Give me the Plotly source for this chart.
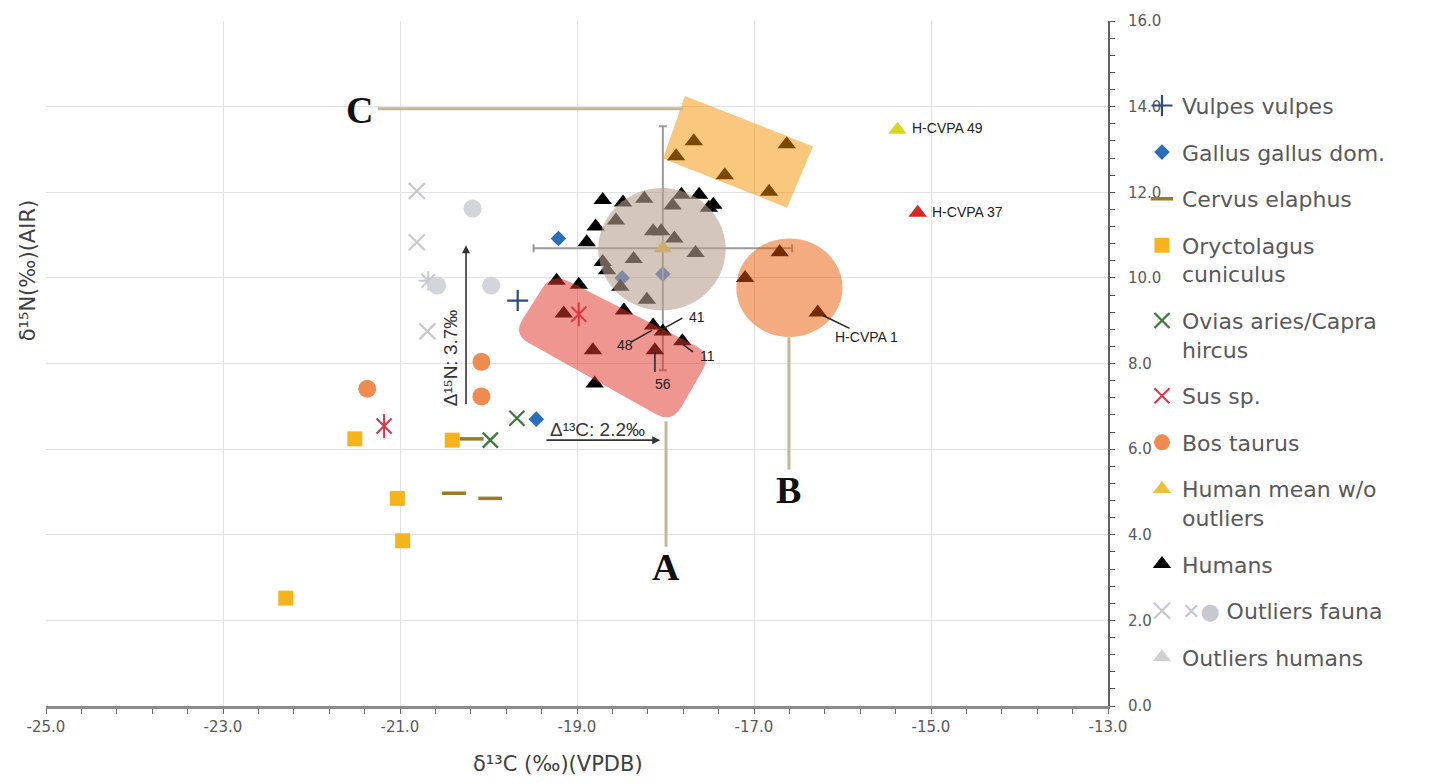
import plotly.graph_objects as go

# ---------------- data ----------------
vulpes_x = [-19.67]
vulpes_y = [9.47]
gallus_x = [-19.21, -18.49, -18.03, -19.46]
gallus_y = [10.92, 10.00, 10.09, 6.70]
cervus_x = [-20.19, -20.39, -19.98]
cervus_y = [6.24, 4.97, 4.85]
oryct_x = [-22.29, -21.51, -20.41, -21.03, -20.97]
oryct_y = [2.52, 6.24, 6.21, 4.85, 3.86]
ovis_x = [-19.98, -19.68]
ovis_y = [6.21, 6.72]
sus_x = [-21.18, -18.98]
sus_y = [6.54, 9.15]
bos_x = [-21.37, -20.08, -20.08]
bos_y = [7.41, 8.04, 7.23]
mean_x = [-18.03]
mean_y = [10.69]
mean_sd_x = [1.46]
mean_sd_y = [2.85]
humans_x = [-18.71, -18.48, -18.24, -17.82, -17.92, -17.62, -17.46, -17.51,
            -18.79, -18.56, -18.14, -18.05, -17.90, -18.89, -17.66, -18.36,
            -18.71, -18.66, -18.51, -18.21,
            -19.23, -18.98, -19.15, -18.47, -18.14, -18.03, -17.81, -18.12,
            -18.82, -18.80,
            -16.71, -17.10, -16.28,
            -17.68, -17.88, -17.33, -16.63, -16.83]
humans_y = [11.82, 11.76, 11.85, 11.94, 11.69, 11.94, 11.71, 11.64,
            11.20, 11.34, 11.09, 11.09, 10.92, 10.83, 10.58, 10.44,
            10.37, 10.18, 9.79, 9.49,
            9.93, 9.84, 9.17, 9.24, 8.89, 8.75, 8.52, 8.31,
            8.31, 7.53,
            10.60, 10.00, 9.19,
            13.19, 12.84, 12.40, 13.12, 12.01]
out_fauna_x_x = [-20.81, -20.81, -20.69]
out_fauna_x_y = [12.03, 10.83, 8.75]
out_fauna_star_x = [-20.68]
out_fauna_star_y = [9.93]
out_fauna_circ_x = [-20.58, -20.18, -19.97]
out_fauna_circ_y = [9.82, 11.62, 9.82]
out_hum_names = ["H-CVPA 49", "H-CVPA 37"]
out_hum_x = [-15.38, -15.15]
out_hum_y = [13.46, 11.52]
out_hum_colors = ["#d9d61e", "#d42a24"]

x_tick_vals = [-25, -23, -21, -19, -17, -15, -13]
x_tick_text = ["-25.0", "-23.0", "-21.0", "-19.0", "-17.0", "-15.0", "-13.0"]
y_tick_vals = [0, 2, 4, 6, 8, 10, 12, 14, 16]
y_tick_text = ["0.0", "2.0", "4.0", "6.0", "8.0", "10.0", "12.0", "14.0", "16.0"]

# group outlines (data coordinates)
gray_circle = dict(cx=-18.04, cy=10.67, rx=0.72, ry=1.43)
orange_circle = dict(cx=-16.60, cy=9.77, rx=0.60, ry=1.15)
yellow_rect = [(-17.78, 14.25), (-16.333, 13.07), (-16.627, 11.64), (-18.028, 12.79)]
red_rect = [(-19.282, 10.115), (-17.475, 8.222), (-17.927, 6.605), (-19.723, 8.684)]

LEG_FONT = "DejaVu Sans"
TXT = "#595959"

VULPES = "#2f4b7c"
OVIS = "#3c7a3c"
SUS = "#e0344a"
CERVUS = "#9c7a22"
OUTF = "#c8c8d0"

fig = go.Figure()

fig.add_trace(go.Scatter(x=vulpes_x, y=vulpes_y, mode="markers", name="Vulpes vulpes",
                         marker=dict(symbol="cross-thin-open", size=15, color=VULPES,
                                     line=dict(color=VULPES, width=2.2))))
fig.add_trace(go.Scatter(x=gallus_x, y=gallus_y, mode="markers", name="Gallus gallus dom.",
                         marker=dict(symbol="diamond", size=12, color="#2a6ebb")))
fig.add_trace(go.Scatter(x=cervus_x, y=cervus_y, mode="markers", name="Cervus elaphus",
                         marker=dict(symbol="line-ew-open", size=17, color=CERVUS,
                                     line=dict(color=CERVUS, width=3.5))))
fig.add_trace(go.Scatter(x=oryct_x, y=oryct_y, mode="markers", name="Oryctolagus<br>cuniculus",
                         marker=dict(symbol="square", size=15, color="#f5b41c")))
fig.add_trace(go.Scatter(x=ovis_x, y=ovis_y, mode="markers", name="Ovias aries/Capra<br>hircus",
                         marker=dict(symbol="x-thin-open", size=15, color=OVIS,
                                     line=dict(color=OVIS, width=2.2))))
fig.add_trace(go.Scatter(x=sus_x, y=sus_y, mode="markers", name="Sus sp.", legendgroup="sus",
                         marker=dict(symbol="x-thin-open", size=15, color=SUS,
                                     line=dict(color=SUS, width=2))))
fig.add_trace(go.Scatter(x=sus_x, y=sus_y, mode="markers", showlegend=False, legendgroup="sus",
                         marker=dict(symbol="line-ns-open", size=17, color=SUS,
                                     line=dict(color=SUS, width=2))))
fig.add_trace(go.Scatter(x=bos_x, y=bos_y, mode="markers", name="Bos taurus",
                         marker=dict(symbol="circle", size=18, color="#ef8a50")))
fig.add_trace(go.Scatter(x=mean_x, y=mean_y, mode="markers", name="Human mean w/o<br>outliers",
                         marker=dict(symbol="triangle-up", size=16, color="#eec03a"),
                         error_x=dict(type="data", array=mean_sd_x, color="#9a9a9a",
                                      thickness=2, width=4),
                         error_y=dict(type="data", array=mean_sd_y, color="#9a9a9a",
                                      thickness=2, width=4)))
fig.add_trace(go.Scatter(x=humans_x, y=humans_y, mode="markers", name="Humans",
                         marker=dict(symbol="triangle-up", size=16, color="#000000")))
fig.add_trace(go.Scatter(x=out_fauna_x_x, y=out_fauna_x_y, mode="markers",
                         name="<span style='color:#c8c8d0'>✕●</span> Outliers fauna",
                         legendgroup="of",
                         marker=dict(symbol="x-thin-open", size=16, color=OUTF,
                                     line=dict(color=OUTF, width=2.2))))
fig.add_trace(go.Scatter(x=out_fauna_star_x, y=out_fauna_star_y, mode="markers",
                         showlegend=False, legendgroup="of",
                         marker=dict(symbol="asterisk-open", size=16, color=OUTF,
                                     line=dict(color=OUTF, width=2))))
fig.add_trace(go.Scatter(x=out_fauna_circ_x, y=out_fauna_circ_y, mode="markers",
                         showlegend=False, legendgroup="of",
                         marker=dict(symbol="circle", size=18, color="#d4d4dc")))
fig.add_trace(go.Scatter(x=[None], y=[None], mode="markers", name="Outliers humans",
                         marker=dict(symbol="triangle-up", size=16, color="#d0d0d0")))
fig.add_trace(go.Scatter(x=out_hum_x, y=out_hum_y, mode="markers", showlegend=False,
                         marker=dict(symbol="triangle-up", size=16, color=out_hum_colors)))


# ---------------- shapes ----------------
def lerp(p, q, t):
    return (p[0] + (q[0] - p[0]) * t, p[1] + (q[1] - p[1]) * t)


def rounded_path(c, f_long, f_short):
    fr = [f_long, f_short, f_long, f_short]
    n = len(c)
    parts = []
    start = lerp(c[0], c[1], fr[0])
    parts.append("M %.4f %.4f" % start)
    for i in range(n):
        p, q, r = c[i], c[(i + 1) % n], c[(i + 2) % n]
        a = lerp(p, q, 1 - fr[i])
        b = lerp(q, r, fr[(i + 1) % n])
        parts.append("L %.4f %.4f" % a)
        parts.append("Q %.4f %.4f %.4f %.4f" % (q[0], q[1], b[0], b[1]))
    parts.append("Z")
    return " ".join(parts)


def poly_path(c):
    return "M " + " L ".join("%.4f %.4f" % p for p in c) + " Z"


shapes = []
shapes.append(dict(type="circle", xref="x", yref="y", layer="above",
                   x0=gray_circle["cx"] - gray_circle["rx"], x1=gray_circle["cx"] + gray_circle["rx"],
                   y0=gray_circle["cy"] - gray_circle["ry"], y1=gray_circle["cy"] + gray_circle["ry"],
                   fillcolor="rgb(183,158,145)", opacity=0.6, line=dict(width=0)))
shapes.append(dict(type="path", xref="x", yref="y", layer="above",
                   path=rounded_path(red_rect, 0.1, 0.25),
                   fillcolor="rgb(226,57,47)", opacity=0.53, line=dict(width=0)))
shapes.append(dict(type="circle", xref="x", yref="y", layer="above",
                   x0=orange_circle["cx"] - orange_circle["rx"], x1=orange_circle["cx"] + orange_circle["rx"],
                   y0=orange_circle["cy"] - orange_circle["ry"], y1=orange_circle["cy"] + orange_circle["ry"],
                   fillcolor="rgb(232,88,0)", opacity=0.5, line=dict(width=0)))
shapes.append(dict(type="path", xref="x", yref="y", layer="above",
                   path=poly_path(yellow_rect),
                   fillcolor="rgb(245,143,0)", opacity=0.5, line=dict(width=0)))

TAN = "#c2b898"
# connector lines to the A / B / C labels
shapes.append(dict(type="line", xref="x", yref="y", layer="above", x0=-17.994, x1=-17.994,
                   y0=6.65, y1=3.72, line=dict(color=TAN, width=3)))
shapes.append(dict(type="line", xref="x", yref="y", layer="above", x0=-16.605, x1=-16.605,
                   y0=8.61, y1=5.52, line=dict(color=TAN, width=3)))
shapes.append(dict(type="line", xref="x", yref="y", layer="above", x0=-21.249, x1=-17.80,
                   y0=13.95, y1=13.95, line=dict(color=TAN, width=3)))

# leader lines for labelled individuals
LEAD = "#222222"
leaders = [((-18.07, 8.76), (-17.81, 9.06)),   # 41
           ((-18.39, 8.50), (-18.15, 8.78)),   # 48
           ((-17.80, 8.44), (-17.69, 8.27)),   # 11
           ((-18.12, 7.80), (-18.12, 8.25)),   # 56
           ((-16.22, 9.12), (-15.92, 8.82))]   # H-CVPA 1
for (a, b) in leaders:
    shapes.append(dict(type="line", xref="x", yref="y", layer="above",
                       x0=a[0], y0=a[1], x1=b[0], y1=b[1], line=dict(color=LEAD, width=1.5)))

# ---------------- annotations ----------------
ann = []
serif = dict(family="Liberation Serif", size=38, color="#111111")
ann.append(dict(x=-17.994, y=3.24, text="<b>A</b>", showarrow=False, font=serif))
ann.append(dict(x=-16.605, y=5.05, text="<b>B</b>", showarrow=False, font=serif))
ann.append(dict(x=-21.46, y=13.92, text="<b>C</b>", showarrow=False, font=serif))

small = dict(family="Liberation Sans", size=14, color="#222222")
ann.append(dict(x=-17.64, y=9.08, text="41", showarrow=False, font=small))
ann.append(dict(x=-18.46, y=8.43, text="48", showarrow=False, font=small))
ann.append(dict(x=-17.53, y=8.18, text="11", showarrow=False, font=small))
ann.append(dict(x=-18.03, y=7.53, text="56", showarrow=False, font=small))
ann.append(dict(x=-15.73, y=8.61, text="H-CVPA 1", showarrow=False, font=small))
for nm, xx, yy in zip(out_hum_names, out_hum_x, out_hum_y):
    ann.append(dict(x=xx + 0.14, y=yy + 0.03, text=nm, showarrow=False, xanchor="left", font=small))

# delta arrows
ann.append(dict(x=-20.254, y=10.76, ax=-20.254, ay=7.02, axref="x", ayref="y", xref="x", yref="y",
                text="", showarrow=True, arrowhead=2, arrowsize=1, arrowwidth=1.6,
                arrowcolor="#333333"))
ann.append(dict(x=-20.42, y=8.13, text="Δ¹⁵N: 3.7‰", showarrow=False, textangle=-90,
                font=dict(family="Liberation Sans", size=19, color="#333333")))
ann.append(dict(x=-18.06, y=6.21, ax=-19.362, ay=6.21, axref="x", ayref="y", xref="x", yref="y",
                text="", showarrow=True, arrowhead=2, arrowsize=1, arrowwidth=1.6,
                arrowcolor="#333333"))
ann.append(dict(x=-18.77, y=6.45, text="Δ¹³C: 2.2‰", showarrow=False,
                font=dict(family="Liberation Sans", size=19, color="#333333")))

# axis titles
ann.append(dict(xref="paper", yref="paper", x=0.482, y=-0.085, xanchor="center", yanchor="middle",
                text="δ¹³C (‰)(VPDB)", showarrow=False,
                font=dict(family=LEG_FONT, size=21, color="#404040")))
ann.append(dict(xref="paper", yref="paper", x=-0.017, y=0.636, xanchor="center", yanchor="middle",
                text="δ¹⁵N(‰)(AIR)", showarrow=False, textangle=-90,
                font=dict(family=LEG_FONT, size=21, color="#404040")))

fig.update_layout(
    width=1445, height=783,
    margin=dict(l=46, r=337, t=13, b=77),
    plot_bgcolor="white", paper_bgcolor="white",
    shapes=shapes, annotations=ann,
    showlegend=True,
    legend=dict(x=1.032, y=0.907, xanchor="left", yanchor="top",
                traceorder="grouped", tracegroupgap=15, valign="top",
                font=dict(family=LEG_FONT, size=22, color=TXT),
                bgcolor="rgba(0,0,0,0)", borderwidth=0),
    xaxis=dict(range=[-25, -13], tickmode="array", tickvals=x_tick_vals, ticktext=x_tick_text,
               showgrid=True, gridcolor="#e2e2e2", gridwidth=1, zeroline=False,
               showline=True, linecolor="#8a8a8a", linewidth=2.5,
               ticks="outside", ticklen=5, tickcolor="#666666", tickwidth=1.2,
               minor=dict(tickmode="linear", tick0=-25, dtick=0.4, ticks="outside",
                          ticklen=5, tickcolor="#666666", tickwidth=1.2, showgrid=False),
               tickfont=dict(family=LEG_FONT, size=15, color=TXT)),
    yaxis=dict(range=[0, 16], side="right", tickmode="array", tickvals=y_tick_vals,
               ticktext=y_tick_text,
               showgrid=True, gridcolor="#e2e2e2", gridwidth=1, zeroline=False,
               showline=True, linecolor="#606060", linewidth=2,
               ticks="outside", ticklen=5, tickcolor="#555555", tickwidth=1.2,
               ticklabelstandoff=10,
               minor=dict(tickmode="linear", tick0=0, dtick=0.4, ticks="outside",
                          ticklen=5, tickcolor="#555555", tickwidth=1.2, showgrid=False),
               tickfont=dict(family=LEG_FONT, size=15, color=TXT)),
)

fig.write_html("out.html")
